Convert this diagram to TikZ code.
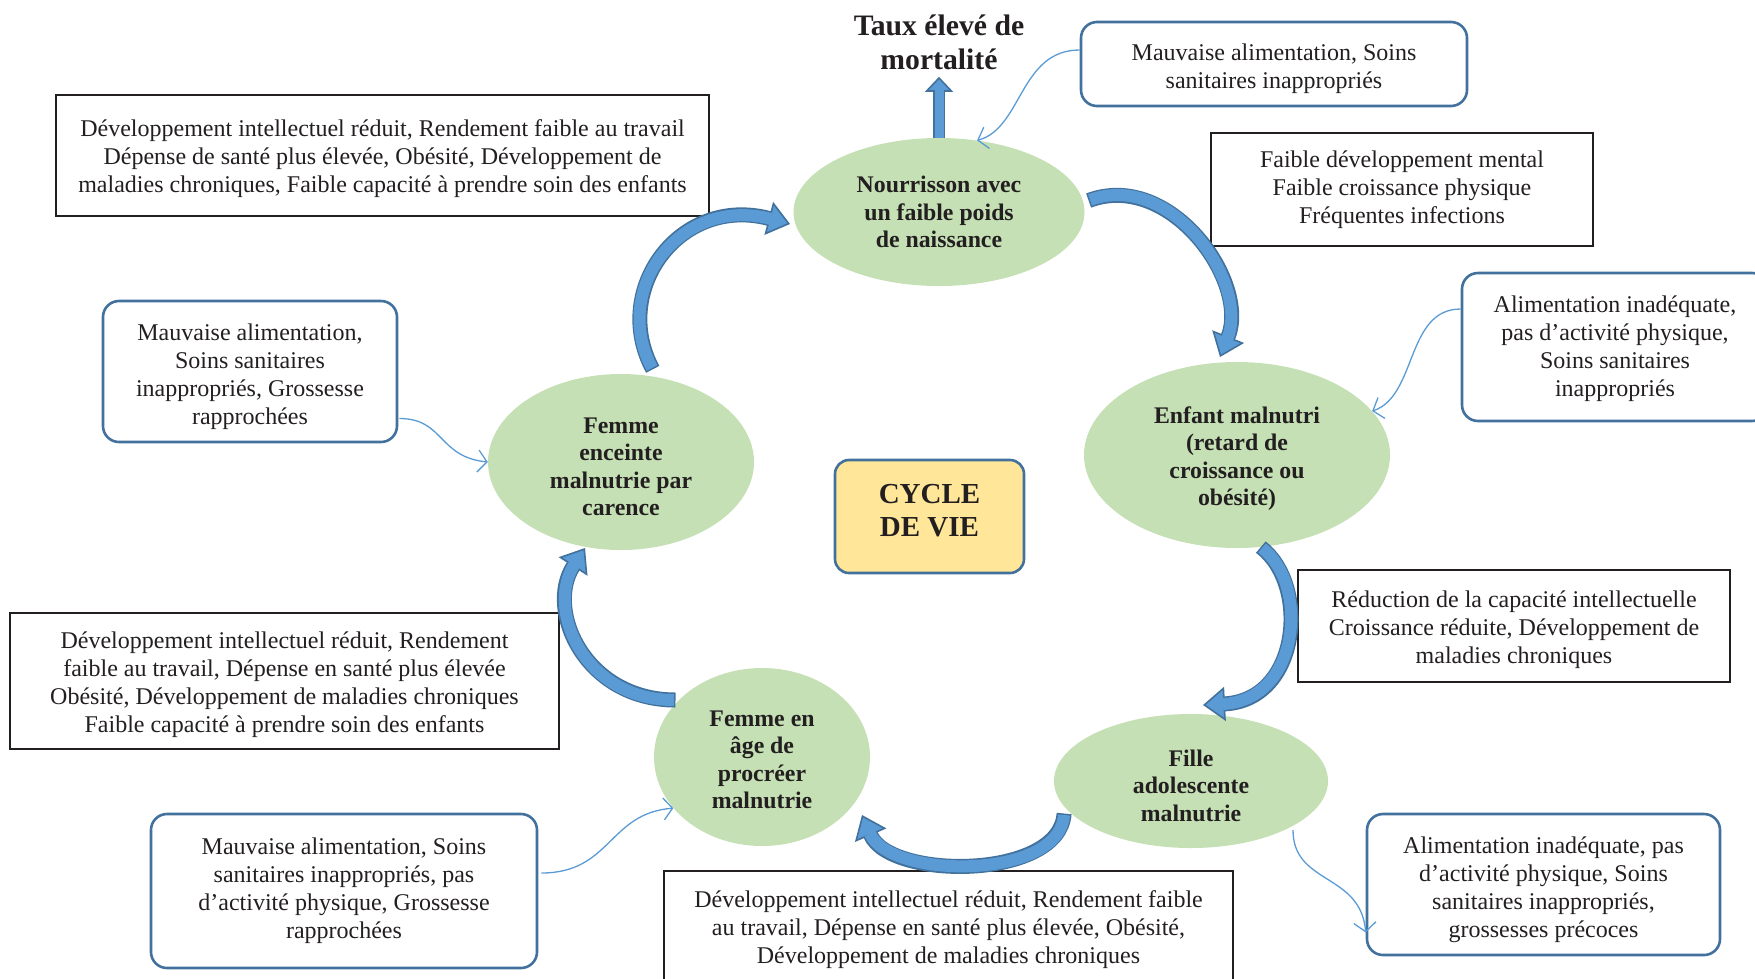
\documentclass[tikz,border=0pt]{standalone}
\usepackage{fontspec}
\setmainfont{Liberation Serif}
\usetikzlibrary{shapes.geometric,arrows.meta,calc}
\definecolor{fillb}{HTML}{5B9BD5}
\definecolor{bordb}{HTML}{41719C}
\definecolor{greenf}{HTML}{C5E0B4}
\definecolor{yellowf}{HTML}{FFE699}
\definecolor{ink}{HTML}{231F20}
\begin{document}
\begin{tikzpicture}[x=1pt,y=-1pt,
  ell/.style={ellipse, fill=greenf, draw=none, inner sep=0pt},
  elltext/.style={inner sep=0pt, align=center, font=\fontsize{23.8}{27.5}\selectfont\bfseries, text=ink},
  blackbox/.style={rectangle, draw=ink, line width=2.6pt, fill=white, inner sep=0pt},
  bluebox/.style={rectangle, rounded corners=16pt, draw=bordb, line width=2.6pt, fill=white, inner sep=0pt},
  boxtext/.style={inner sep=0pt, align=center, font=\fontsize{24}{28}\selectfont, text=ink},
  linkarrow/.style={draw=fillb, line width=1.3pt, -{Straight Barb[length=9pt,width=22pt]}},
  bigout/.style={draw=bordb, line width=15pt, shorten <=-1.5pt,
    -{Triangle[width=34pt,length=22pt,line width=1.6pt,fill=fillb]}},
  bigin/.style={draw=fillb, line width=12pt, shorten >=20pt},
  upout/.style={draw=bordb, line width=12pt,
    -{Triangle[width=28pt,length=15pt,line width=1.6pt,fill=fillb]}},
  upin/.style={draw=fillb, line width=9pt, shorten >=13pt},
]
\useasboundingbox (0,0) rectangle (1755,978);

% boxes
\node[blackbox, minimum width=653pt, minimum height=121pt] (boxA) at (382.5,155.5) {};
\node[boxtext] (boxAtext) at ($(boxA.center)+(0,3.4)$)
  {Développement intellectuel réduit, Rendement faible au travail\\Dépense de santé plus élevée, Obésité, Développement de\\maladies chroniques, Faible capacité à prendre soin des enfants};
\node[bluebox, minimum width=386pt, minimum height=84pt] (boxB) at (1274,64) {};
\node[boxtext] (boxBtext) at ($(boxB.center)+(0,4.5)$)
  {Mauvaise alimentation, Soins\\sanitaires inappropriés};
\node[blackbox, minimum width=382pt, minimum height=113pt] (boxC) at (1402,189.5) {};
\node[boxtext] (boxCtext) at ($(boxC.center)+(0,0)$)
  {Faible développement mental\\Faible croissance physique\\Fréquentes infections};
\node[bluebox, minimum width=306pt, minimum height=148pt] (boxD) at (1615,347) {};
\node[boxtext] (boxDtext) at ($(boxD.center)+(0,2.2)$)
  {Alimentation inadéquate,\\pas d’activité physique,\\Soins sanitaires\\inappropriés};
\node[bluebox, minimum width=294pt, minimum height=141pt] (boxE) at (250,371.5) {};
\node[boxtext] (boxEtext) at ($(boxE.center)+(0,5.6)$)
  {Mauvaise alimentation,\\Soins sanitaires\\inappropriés, Grossesse\\rapprochées};
\node[blackbox, minimum width=432pt, minimum height=112pt] (boxF) at (1514,626) {};
\node[boxtext] (boxFtext) at ($(boxF.center)+(0,3.4)$)
  {Réduction de la capacité intellectuelle\\Croissance réduite, Développement de\\maladies chroniques};
\node[blackbox, minimum width=549pt, minimum height=136pt] (boxG) at (284.5,681) {};
\node[boxtext] (boxGtext) at ($(boxG.center)+(0,3.4)$)
  {Développement intellectuel réduit, Rendement\\faible au travail, Dépense en santé plus élevée\\Obésité, Développement de maladies chroniques\\Faible capacité à prendre soin des enfants};
\node[bluebox, minimum width=386pt, minimum height=154pt] (boxH) at (344,891) {};
\node[boxtext] (boxHtext) at ($(boxH.center)+(0,0)$)
  {Mauvaise alimentation, Soins\\sanitaires inappropriés, pas\\d’activité physique, Grossesse\\rapprochées};
\node[blackbox, minimum width=569pt, minimum height=112pt] (boxI) at (948.5,927) {};
\node[boxtext] (boxItext) at ($(boxI.center)+(0,2.2)$)
  {Développement intellectuel réduit, Rendement faible\\au travail, Dépense en santé plus élevée, Obésité,\\Développement de maladies chroniques};
\node[bluebox, minimum width=353pt, minimum height=141pt] (boxJ) at (1543.5,884.5) {};
\node[boxtext] (boxJtext) at ($(boxJ.center)+(0,5)$)
  {Alimentation inadéquate, pas\\d’activité physique, Soins\\sanitaires inappropriés,\\grossesses précoces};

% ellipses
\node[ell, minimum width=291pt, minimum height=148pt] (nour) at (939,212) {};
\node[elltext] (nourtext) at ($(nour.center)+(0,0)$) {Nourrisson avec\\un faible poids\\de naissance};
\node[ell, minimum width=306pt, minimum height=186pt] (enf) at (1237,455) {};
\node[elltext] (enftext) at ($(enf.center)+(0,3.8)$) {Enfant malnutri\\(retard de\\croissance ou\\obésité)};
\node[ell, minimum width=274pt, minimum height=134pt] (fille) at (1191,781) {};
\node[elltext] (filletext) at ($(fille.center)+(0,4.4)$) {Fille\\adolescente\\malnutrie};
\node[ell, minimum width=216pt, minimum height=178pt] (age) at (762,757) {};
\node[elltext] (agetext) at ($(age.center)+(0,2.8)$) {Femme en\\âge de\\procréer\\malnutrie};
\node[ell, minimum width=266pt, minimum height=176pt] (enc) at (621,462) {};
\node[elltext] (enctext) at ($(enc.center)+(0,4.8)$) {Femme\\enceinte\\malnutrie par\\carence};

% centre
\node[rectangle, rounded corners=14pt, draw=bordb, line width=2.6pt, fill=yellowf,
  minimum width=189pt, minimum height=113pt, inner sep=0pt] (cycle) at (929.5,516.5) {};
\node[inner sep=0pt, align=center, font=\fontsize{29}{33}\selectfont\bfseries, text=ink]
  (cycletext) at ($(cycle.center)+(0,-5.6)$) {CYCLE\\DE VIE};

% mortality
\node[inner sep=0pt, align=center, font=\fontsize{29.7}{34}\selectfont\bfseries, text=ink]
  (taux) at (939,42) {Taux élevé de\\mortalité};
\draw[upout] (nour.north) -- ($(nour.north)+(0,-61)$);
\draw[upin] (nour.north) -- ($(nour.north)+(0,-61)$);

% cycle arrows
\draw[bigout] ($(enc.center)+(31,-94)$) .. controls +(-42,-78) and +(-110,-29) .. ($(nour.center)+(-149,12)$);
\draw[bigin]  ($(enc.center)+(31,-94)$) .. controls +(-42,-78) and +(-110,-29) .. ($(nour.center)+(-149,12)$);
\draw[bigout] ($(nour.center)+(151,-12)$) .. controls +(80,-30) and +(30,-75) .. ($(enf.center)+(-17,-98)$);
\draw[bigin]  ($(nour.center)+(151,-12)$) .. controls +(80,-30) and +(30,-75) .. ($(enf.center)+(-17,-98)$);
\draw[bigout] ($(enf.center)+(25,93)$) .. controls +(48,37) and +(97,-5) .. ($(fille.center)+(12,-76)$);
\draw[bigin]  ($(enf.center)+(25,93)$) .. controls +(48,37) and +(97,-5) .. ($(fille.center)+(12,-76)$);
\draw[bigout] ($(fille.center)+(-127,34)$) .. controls +(-4,65) and +(28,65) .. ($(age.center)+(100,58)$);
\draw[bigin]  ($(fille.center)+(-127,34)$) .. controls +(-4,65) and +(28,65) .. ($(age.center)+(100,58)$);
\draw[bigout] ($(age.center)+(-88,-57)$) .. controls +(-89,0) and +(-40,62) .. ($(enc.center)+(-36,86)$);
\draw[bigin]  ($(age.center)+(-88,-57)$) .. controls +(-89,0) and +(-40,62) .. ($(enc.center)+(-36,86)$);

% thin link arrows
\draw[linkarrow] ($(boxB.west)+(0,-14)$) .. controls +(-60,0) and +(45,-12) .. (nour.62);
\draw[linkarrow] ($(boxD.west)+(0,-38)$) .. controls +(-55,0) and +(45,-15) .. (enf.18);
\draw[linkarrow] ($(boxE.east)+(1,47)$) .. controls +(45,0) and +(-50,-5) .. (enc.west);
\draw[linkarrow] ($(boxH.east)+(3,-18)$) .. controls +(70,0) and +(-65,5) .. (age.210);
\draw[linkarrow] ($(fille.center)+(102,49)$) .. controls +(0,55) and +(-5,-60) .. ($(boxJ.west)+(0,48)$);
\end{tikzpicture}
\end{document}
